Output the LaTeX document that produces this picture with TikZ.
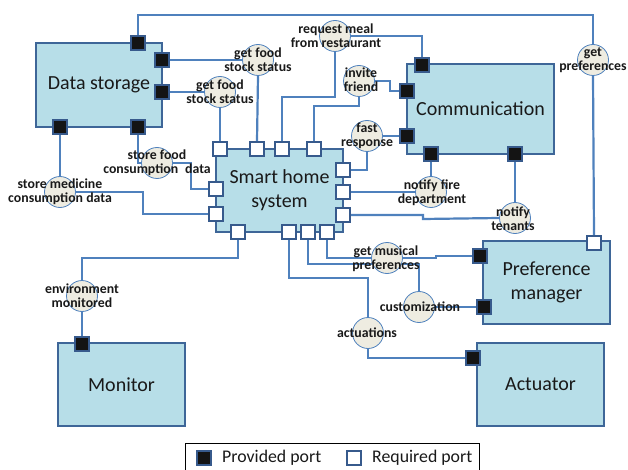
\documentclass[tikz,border=0pt]{standalone}
\usepackage{fontspec}
\setmainfont{Carlito}
\usetikzlibrary{calc}
\pgfdeclarelayer{background}
\pgfsetlayers{background,main}

\definecolor{boxfill}{RGB}{183,222,232}
\definecolor{boxedge}{RGB}{62,102,152}
\definecolor{portedge}{RGB}{55,90,140}
\definecolor{wireblue}{RGB}{79,129,189}
\definecolor{ballfill}{RGB}{238,236,225}
\definecolor{portdark}{RGB}{20,20,20}
\definecolor{ink}{RGB}{25,25,25}

\begin{document}
\begin{tikzpicture}[x=1pt,y=-1pt,
  comp/.style={rectangle, draw=boxedge, line width=2.2pt, fill=boxfill, inner sep=0pt,
               font=\fontsize{20}{24}\selectfont, text=ink, align=center},
  prov/.style={rectangle, draw=portedge, fill=portdark, line width=2.2pt, minimum size=14pt, inner sep=0pt},
  reqd/.style={rectangle, draw=portedge, fill=white, line width=2.2pt, minimum size=14pt, inner sep=0pt},
  ball/.style={circle, draw=wireblue, line width=0.8pt, fill=ballfill, minimum size=31pt, inner sep=0pt},
  lbl/.style={font=\bfseries\fontsize{13.8}{14}\selectfont, align=center, text=ink, inner sep=0pt},
  conn/.style={draw=wireblue, line width=2.2pt},
  legtext/.style={font=\fontsize{17.8}{20}\selectfont, text=ink, anchor=west, inner sep=0pt},
]
\useasboundingbox (0,0) rectangle (628,470);
\clip (0,0) rectangle (628,470);

% ---------- components ----------
\node[comp, minimum width=126pt, minimum height=84pt] (ds)   at (99,85)      {Data storage};
\node[comp, minimum width=147pt, minimum height=90pt] (comm) at (480.5,109)  {Communication};
\node[comp, minimum width=127pt, minimum height=83pt] (shs)  at (279.5,190.5){Smart home\\system};
\node[comp, minimum width=127pt, minimum height=83pt] (pm)   at (546.5,282.5){Preference\\manager};
\node[comp, minimum width=127pt, minimum height=83pt] (act)  at (540.5,384.5){Actuator};
\node[comp, minimum width=127pt, minimum height=83pt] (mon)  at (121.5,384.5){Monitor};

% ---------- ports ----------
% Data storage (provided)
\node[prov] (ds-t)  at (138,43)  {};
\node[prov] (ds-r1) at (162,60)  {};
\node[prov] (ds-r2) at (162,92)  {};
\node[prov] (ds-b1) at (60,127)  {};
\node[prov] (ds-b2) at (138,127) {};
% Communication (provided)
\node[prov] (comm-t)  at (422,65)  {};
\node[prov] (comm-l1) at (407,91)  {};
\node[prov] (comm-l2) at (407,136) {};
\node[prov] (comm-b1) at (431,154) {};
\node[prov] (comm-b2) at (515,154) {};
% Smart home system (required)
\node[reqd] (shs-t1) at (220,149) {};
\node[reqd] (shs-t2) at (257,149) {};
\node[reqd] (shs-t3) at (282,149) {};
\node[reqd] (shs-t4) at (314,149) {};
\node[reqd] (shs-l1) at (216,189) {};
\node[reqd] (shs-l2) at (216,214) {};
\node[reqd] (shs-r1) at (343,170) {};
\node[reqd] (shs-r2) at (343,192) {};
\node[reqd] (shs-r3) at (343,215) {};
\node[reqd] (shs-b1) at (238,232) {};
\node[reqd] (shs-b2) at (289,232) {};
\node[reqd] (shs-b3) at (308,232) {};
\node[reqd] (shs-b4) at (327,232) {};
% Preference manager
\node[reqd] (pm-t)  at (594,243) {};
\node[prov] (pm-l1) at (480,256) {};
\node[prov] (pm-l2) at (484,307) {};
% Actuator and monitor
\node[prov] (act-l) at (473,358) {};
\node[prov] (mon-t) at (82,344)  {};

% ---------- interfaces ----------
\node[ball] (food1)   at (258,60)  {};
\node[ball] (food2)   at (220,92)  {};
\node[ball] (meal)    at (335,36)  {};
\node[ball] (invite)  at (359,81)  {};
\node[ball] (fast)    at (367,136) {};
\node[ball] (fire)    at (431,192) {};
\node[ball] (tenants) at (515,218) {};
\node[ball] (pref)    at (593,60)  {};
\node[ball] (sfood)   at (157,163) {};
\node[ball] (smed)    at (60,192)  {};
\node[ball] (envm)    at (82,296)  {};
\node[ball] (music)   at (387,258) {};
\node[ball] (custom)  at (419,307) {};
\node[ball] (actu)    at (368,333) {};

\node[lbl] (food1-t)   at (food1)   {get food\\stock status};
\node[lbl] (food2-t)   at (food2)   {get food\\stock status};
\node[lbl] (meal-t)    at (336,36)  {request meal\\from restaurant};
\node[lbl] (invite-t)  at (361,80)  {invite\\friend};
\node[lbl] (fast-t)    at (fast)    {fast\\response};
\node[lbl] (fire-t)    at (432,193) {notify fire\\department};
\node[lbl] (tenants-t) at (513,219) {notify\\tenants};
\node[lbl] (pref-t)    at (pref)    {get\\preferences};
\node[lbl] (sfood-t)   at (157,162.5) {store food\\consumption\enspace data};
\node[lbl] (smed-t)    at (60,191.5)  {store medicine\\consumption data};
\node[lbl] (envm-t)    at (envm)    {environment\\monitored};
\node[lbl] (music-t)   at (386,258.5) {get musical\\preferences};
\node[lbl] (custom-t)  at (420,307) {customization};
\node[lbl] (actu-t)    at (367,333) {actuations};

% ---------- connectors ----------
\begin{pgfonlayer}{background}
  \draw[conn] (ds-t.north) -- (138,15) -| (pref.north);
  \draw[conn] (pref.south) -- (pm-t.north);
  \draw[conn] (ds-r1.east) -- (food1.west);
  \draw[conn] (food1.south) -- (shs-t2.north);
  \draw[conn] (ds-r2.east) -- (food2.west);
  \draw[conn] (food2.south) -- (shs-t1.north);
  \draw[conn] (ds-b2.south) |- (sfood.west);
  \draw[conn] (sfood.east) -- (191,163) |- (shs-l1.west);
  \draw[conn] (ds-b1.south) -- (smed.north);
  \draw[conn] (smed.east) -- (143,192) |- (shs-l2.west);
  \draw[conn] (mon-t.north) -- (envm.south);
  \draw[conn] (envm.north) -- (82,258) -| (shs-b1.south);
  \draw[conn] (shs-b2.south) -- (289,278) -| (actu.north);
  \draw[conn] (actu.south) |- (act-l.west);
  \draw[conn] (shs-b3.south) -- (308,264) -| (custom.north);
  \draw[conn] (custom.east) -- (pm-l2.west);
  \draw[conn] (shs-b4.south) |- (music.west);
  \draw[conn] (music.east) -- (436,258) -- (436,256) -- (pm-l1.west);
  \draw[conn] (shs-r3.east) -- (423,215) -- (423,219) -- (tenants.west);
  \draw[conn] (tenants.north) -- (comm-b2.south);
  \draw[conn] (shs-r2.east) -- (fire.west);
  \draw[conn] (fire.north) -- (comm-b1.south);
  \draw[conn] (shs-r1.east) -| (fast.south);
  \draw[conn] (fast.east) -- (comm-l2.west);
  \draw[conn] (shs-t4.north) -- (314,106) -| (invite.south);
  \draw[conn] (invite.east) -- (390,81) |- (comm-l1.west);
  \draw[conn] (shs-t3.north) -- (282,97) -| (meal.south);
  \draw[conn] (meal.east) -| (comm-t.north);
\end{pgfonlayer}

% ---------- legend ----------
\draw[black, line width=0.8pt, fill=white] (185,443) rectangle (479,484);
\node[prov] (leg-prov) at (204,458) {};
\node[legtext] (leg-prov-t) at (222,458) {Provided port};
\node[reqd] (leg-req) at (354,458) {};
\node[legtext] (leg-req-t) at (372,458) {Required port};
\end{tikzpicture}
\end{document}
